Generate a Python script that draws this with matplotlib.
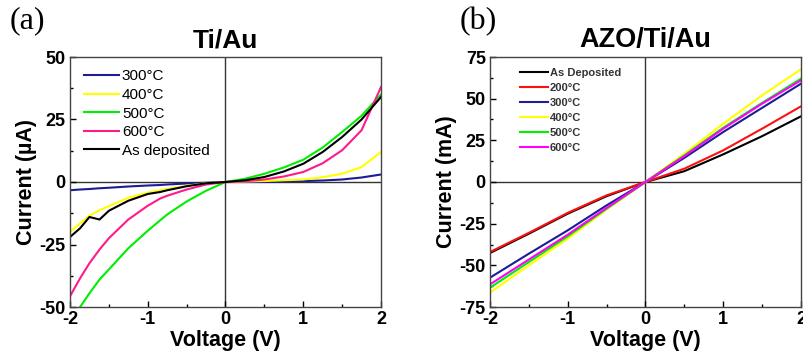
import matplotlib.pyplot as plt
from matplotlib.ticker import MultipleLocator

# ---- data: panel (a) Ti/Au, current in uA ----
v_a = [-2.0, -1.87, -1.75, -1.62, -1.5, -1.25, -1.0, -0.84, -0.75, -0.5, -0.25, 0.0,
       0.25, 0.5, 0.75, 1.0, 1.25, 1.5, 1.75, 2.0]
i_300 = [-3.3, -3.0, -2.8, -2.5, -2.3, -1.8, -1.4, -1.2, -1.0, -0.6, -0.3, 0.0,
         0.05, 0.1, 0.2, 0.35, 0.6, 1.0, 1.8, 3.0]
i_400 = [-20.0, -16.5, -13.5, -11.3, -9.7, -6.3, -4.3, -3.3, -2.8, -1.5, -0.5, 0.0,
         0.2, 0.4, 0.7, 1.0, 1.9, 3.3, 6.0, 12.0]
i_500 = [-57.0, -50.0, -44.5, -39.0, -35.0, -26.5, -19.5, -15.3, -13.0, -7.8, -3.5, 0.0,
         1.3, 3.3, 5.8, 8.9, 13.8, 20.0, 26.5, 35.0]
i_600 = [-45.7, -38.5, -32.5, -27.0, -22.5, -15.0, -9.5, -6.6, -5.5, -3.0, -1.0, 0.0,
         0.3, 1.0, 2.2, 4.0, 7.5, 12.7, 20.7, 38.0]
i_dep = [-22.0, -18.5, -14.0, -15.0, -11.5, -7.5, -4.8, -4.0, -3.3, -1.7, -0.5, 0.0,
         0.7, 2.0, 4.2, 7.3, 12.0, 18.0, 25.0, 34.0]

# ---- data: panel (b) AZO/Ti/Au, current in mA ----
v_b = [-2.0, -1.5, -1.0, -0.5, 0.0, 0.5, 1.0, 1.5, 2.0]
b_dep = [-42.6, -31.0, -19.0, -8.5, 0.0, 6.5, 16.6, 27.5, 39.4]
b_200 = [-42.0, -30.5, -18.5, -8.0, 0.0, 8.0, 19.0, 32.0, 45.4]
b_300 = [-57.4, -43.0, -29.0, -14.0, 0.0, 14.5, 30.0, 44.5, 59.0]
b_400 = [-66.4, -50.0, -34.0, -16.5, 0.0, 17.0, 35.0, 52.0, 67.6]
b_500 = [-63.4, -48.0, -32.6, -16.0, 0.0, 16.0, 32.6, 47.5, 62.0]
b_600 = [-61.4, -46.5, -31.6, -15.5, 0.0, 15.5, 32.0, 47.0, 61.0]

plt.rcParams['font.family'] = ['Liberation Sans', 'DejaVu Sans']
plt.rcParams['font.weight'] = 'bold'
plt.rcParams['axes.unicode_minus'] = False

fig = plt.figure(figsize=(8.04, 3.56), dpi=100)
ax1 = fig.add_axes([70 / 804, 1 - 307 / 356, 311 / 804, 250 / 356])
ax2 = fig.add_axes([490 / 804, 1 - 307 / 356, 311 / 804, 250 / 356])

lw = 1.5
ax1.plot(v_a, i_300, color='#1c1c96', lw=lw, label='300°C')
ax1.plot(v_a, i_400, color='#ffff00', lw=lw, label='400°C')
ax1.plot(v_a, i_500, color='#00ee00', lw=lw, label='500°C')
ax1.plot(v_a, i_600, color='#ff1a8c', lw=lw, label='600°C')
ax1.plot(v_a, i_dep, color='black', lw=lw, label='As deposited')

ax2.plot(v_b, b_dep, color='black', lw=lw, label='As Deposited')
ax2.plot(v_b, b_200, color='#ff1010', lw=lw, label='200°C')
ax2.plot(v_b, b_300, color='#1c1c96', lw=lw, label='300°C')
ax2.plot(v_b, b_400, color='#ffff00', lw=lw, label='400°C')
ax2.plot(v_b, b_500, color='#00ee00', lw=lw, label='500°C')
ax2.plot(v_b, b_600, color='#ff00ff', lw=lw, label='600°C')

for ax, lim, step in [(ax1, 50, 25), (ax2, 75, 25)]:
    ax.set_xlim(-2, 2)
    ax.set_ylim(-lim, lim)
    ax.axhline(0, color='#333333', lw=1, zorder=0)
    ax.axvline(0, color='#333333', lw=1, zorder=0)
    ax.xaxis.set_major_locator(MultipleLocator(1))
    ax.xaxis.set_minor_locator(MultipleLocator(0.5))
    ax.yaxis.set_major_locator(MultipleLocator(step))
    ax.yaxis.set_minor_locator(MultipleLocator(step / 2))
    ax.tick_params(which='both', direction='in', top=False, right=False)
    ax.tick_params(which='major', length=4, width=1, labelsize=13, pad=3)
    ax.tick_params(which='minor', length=2, width=1)
    for s in ax.spines.values():
        s.set_color('#444444')
        s.set_linewidth(1)
    ax.set_xlabel('Voltage (V)', fontsize=15.5, fontweight='bold', labelpad=1)

ax1.set_ylabel('Current (µA)', fontsize=15.5, fontweight='bold', labelpad=2)
ax2.set_ylabel('Current (mA)', fontsize=15.5, fontweight='bold', labelpad=2)
ax1.set_title('Ti/Au', fontsize=19, fontweight='bold', pad=7)
ax2.set_title('AZO/Ti/Au', fontsize=19.5, fontweight='bold', pad=7)

ax1.legend(loc='upper left', bbox_to_anchor=(0.0, 1.005), frameon=False,
           prop={'size': 11, 'weight': 'normal'}, handlelength=2.3,
           handletextpad=0.2, labelspacing=0.3, borderaxespad=0.5)
leg2 = ax2.legend(loc='upper left', bbox_to_anchor=(0.065, 0.995), frameon=False,
                  prop={'size': 8, 'weight': 'bold'}, handlelength=2.5,
                  handletextpad=0.15, labelspacing=0.45, borderaxespad=0.5)
for t in leg2.get_texts():
    t.set_color('#333333')

fig.text(10 / 804, 1 - 21 / 356, '(a)', fontsize=23, family='Liberation Serif',
         fontweight='normal', va='center', ha='left')
fig.text(460 / 804, 1 - 22 / 356, '(b)', fontsize=23, family='Liberation Serif',
         fontweight='normal', va='center', ha='left')

fig.savefig('out.png', dpi=100)
